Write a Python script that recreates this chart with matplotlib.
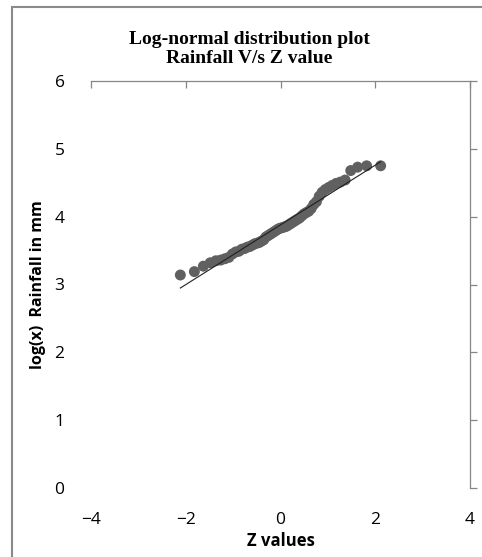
import numpy as np
import matplotlib
matplotlib.use('Agg')
import matplotlib.pyplot as plt
from matplotlib.patches import Rectangle

# Z values (normal quantiles) and log rainfall
z_values = [-2.114, -1.818, -1.628, -1.483, -1.364, -1.262, -1.172, -1.090, -1.015, -0.945,
            -0.879, -0.817, -0.758, -0.702, -0.648, -0.595, -0.544, -0.495, -0.447, -0.400,
            -0.353, -0.308, -0.263, -0.218, -0.174, -0.130, -0.087, -0.043, 0.000, 0.043,
            0.087, 0.130, 0.174, 0.218, 0.263, 0.308, 0.353, 0.400, 0.447, 0.495,
            0.544, 0.595, 0.648, 0.702, 0.758, 0.817, 0.879, 0.945, 1.015, 1.090,
            1.172, 1.262, 1.364, 1.483, 1.628, 1.818, 2.114]
log_rain = [3.14, 3.19, 3.27, 3.32, 3.35, 3.36, 3.38, 3.40, 3.45, 3.48,
            3.49, 3.52, 3.53, 3.55, 3.56, 3.58, 3.60, 3.61, 3.62, 3.64,
            3.66, 3.70, 3.72, 3.74, 3.76, 3.78, 3.80, 3.82, 3.83, 3.84,
            3.85, 3.86, 3.88, 3.90, 3.92, 3.94, 3.96, 3.98, 4.01, 4.04,
            4.06, 4.08, 4.12, 4.18, 4.22, 4.30, 4.36, 4.40, 4.43, 4.46,
            4.49, 4.51, 4.54, 4.68, 4.73, 4.75, 4.75]

x_ticks = [-4, -2, 0, 2, 4]
y_ticks = [0, 1, 2, 3, 4, 5, 6]

z = np.array(z_values)
y = np.array(log_rain)

# linear trendline
slope, intercept = np.polyfit(z, y, 1)
z_line = np.array([z.min(), z.max()])

fig = plt.figure(figsize=(4.82, 5.57), dpi=100)
ax = fig.add_axes([91/482, 1 - 488/557, (470 - 91)/482, (488 - 81)/557])

ax.scatter(z, y, s=62, color='#606060', edgecolors='none', zorder=3)
ax.plot(z_line, slope * z_line + intercept, color='#202020', lw=0.8, zorder=4)

ax.set_xlim(-4, 4)
ax.set_ylim(0, 6)
ax.set_xticks(x_ticks)
ax.set_yticks(y_ticks)

axis_col = '#868686'
for s in ['left', 'bottom']:
    ax.spines[s].set_visible(False)
for s in ['top', 'right']:
    ax.spines[s].set_color(axis_col)
    ax.spines[s].set_linewidth(0.9)

ax.tick_params(axis='x', bottom=False, top=True, labelbottom=True, labeltop=False,
               direction='in', length=5, width=0.9, color=axis_col, pad=17,
               labelsize=12.5, labelcolor='black')
ax.tick_params(axis='y', left=False, right=True, labelleft=True, labelright=False,
               direction='out', length=5, width=0.9, color=axis_col, pad=14,
               labelsize=12.5, labelcolor='black')
for lab in ax.get_xticklabels() + ax.get_yticklabels():
    lab.set_fontfamily('Open Sans')

ax.set_xlabel('Z values', fontfamily='Open Sans', fontweight='bold', fontsize=12, labelpad=3)
ax.set_ylabel('log(x)  Rainfall in mm', fontfamily='Open Sans', fontweight='bold',
              fontsize=11.5, labelpad=6)

fig.text(249/482, 1 - 49/557, 'Log-normal distribution plot\nRainfall V/s Z value',
         ha='center', va='center', fontfamily='Liberation Serif', fontweight='bold',
         fontsize=14, linespacing=1.15)

# chart area border
fig.patches.append(Rectangle((12/482, -0.1), 1.2, 1.1 - 7/557, transform=fig.transFigure,
                             fill=False, edgecolor='#8a8a8a', lw=1.5))

fig.savefig('out.png', dpi=100)
